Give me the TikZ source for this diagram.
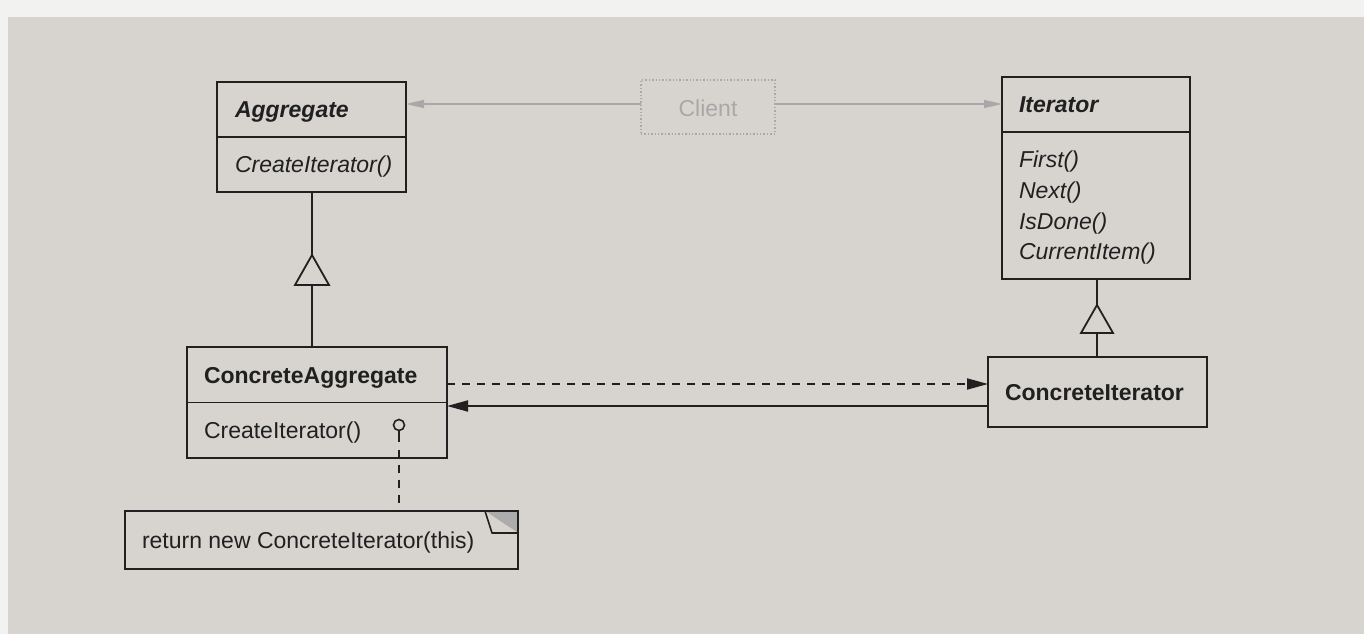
\documentclass[tikz,border=0pt]{standalone}
\usepackage{fontspec}
\setmainfont{Liberation Sans}
\usetikzlibrary{arrows.meta}
\definecolor{paper}{RGB}{215,212,208}
\definecolor{margin}{RGB}{242,242,241}
\definecolor{ink}{RGB}{32,32,32}
\definecolor{faint}{RGB}{168,168,168}
\definecolor{hatch}{RGB}{172,172,172}

\begin{document}
\begin{tikzpicture}[x=1pt,y=-1pt,
  every node/.style={inner sep=0pt, outer sep=0pt},
  box/.style={draw=ink, line width=2pt, rectangle, fill=paper},
  rule/.style={draw=ink, line width=1.9pt},
  label/.style={anchor=base west, text=ink, font=\fontsize{23}{27}\selectfont},
  abstractname/.style={label, font=\fontsize{23}{27}\selectfont\bfseries\itshape},
  classname/.style={label, font=\fontsize{23}{27}\selectfont\bfseries},
  abstractop/.style={label, font=\fontsize{23}{27}\selectfont\itshape},
  ghost/.style={draw=faint, line width=1.4pt, dotted},
  ghostarrow/.style={faint, line width=1.5pt, -{Triangle[length=18pt,width=8pt]}},
  inkarrow/.style={ink, line width=1.8pt, -{Triangle[length=21pt,width=11pt]}},
  dependency/.style={inkarrow, dash pattern=on 8pt off 7pt},
  generalize/.style={draw=ink, line width=1.8pt, fill=paper},
]
% page and scan margins
\useasboundingbox (0,0) rectangle (1364,634);
\fill[paper] (0,0) rectangle (1364,634);
\fill[margin] (0,0) rectangle (1364,17);
\fill[margin] (0,0) rectangle (8,634);

% rows used by the horizontal connectors
\coordinate (clientrow) at (0,104);
\coordinate (deprow) at (0,384);
\coordinate (refrow) at (0,406);

% Aggregate
\node[box, minimum width=189pt, minimum height=110pt] (agg) at (311.5,137) {};
\draw[rule] (agg.west) -- (agg.east);
\node[abstractname] (aggname) at (235,117) {Aggregate};
\node[abstractop] (aggop) at (235,172) {CreateIterator()};

% Client
\node[ghost, minimum width=134pt, minimum height=54pt] (client) at (708,107) {};
\node[label, text=faint, anchor=base] (clientname) at (708,116) {Client};

% Iterator
\node[box, minimum width=188pt, minimum height=202pt] (iter) at (1096,178) {};
\draw[rule] ([yshift=46pt]iter.west) -- ([yshift=46pt]iter.east);
\node[abstractname] (itername) at (1019,112) {Iterator};
\node[abstractop] (opfirst) at (1019,167) {First()};
\node[abstractop] (opnext) at (1019,198) {Next()};
\node[abstractop] (opdone) at (1019,229) {IsDone()};
\node[abstractop] (opitem) at (1019,259) {CurrentItem()};

% ConcreteAggregate
\node[box, minimum width=260pt, minimum height=111pt] (cagg) at (317,402.5) {};
\draw[rule] (cagg.west) -- (cagg.east);
\node[classname] (caggname) at (204,383) {ConcreteAggregate};
\node[label] (caggop) at (204,438) {CreateIterator()};
\node[circle, draw=ink, line width=1.6pt, minimum size=11pt] (pin) at (399,425) {};

% ConcreteIterator
\node[box, minimum width=219pt, minimum height=70pt] (cit) at (1097.5,392) {};
\node[classname] (citname) at (1005,400) {ConcreteIterator};

% implementation note
\node[box, minimum width=393pt, minimum height=58pt] (note) at (321.5,540) {};
\node[label] (notetext) at (142,548) {return new ConcreteIterator(this)};
\fill[hatch] ([xshift=-33pt]note.north east) -- (note.north east)
  -- ([yshift=-22pt]note.north east) -- cycle;
\draw[draw=ink, line width=1.6pt, fill=paper, line join=round]
  ([xshift=-33pt]note.north east) -- ([xshift=-26pt,yshift=-22pt]note.north east)
  -- ([yshift=-22pt]note.north east);
\draw[rule] (note.north west) rectangle (note.south east);

% client references
\draw[ghostarrow] (client.west |- clientrow) -- (agg.east |- clientrow);
\draw[ghostarrow] (client.east |- clientrow) -- (iter.west |- clientrow);

% generalizations
\coordinate (aggtip) at (312,255);
\coordinate (aggbase) at (312,285);
\draw[rule] (agg.south -| aggtip) -- (aggtip);
\draw[generalize] (aggtip) -- ++(-17,30) -- ++(34,0) -- cycle;
\draw[rule] (aggbase) -- (aggbase |- cagg.north);

\coordinate (itertip) at (1097,305);
\coordinate (iterbase) at (1097,333);
\draw[rule] (iter.south -| itertip) -- (itertip);
\draw[generalize] (itertip) -- ++(-16,28) -- ++(32,0) -- cycle;
\draw[rule] (iterbase) -- (iterbase |- cit.north);

% ConcreteAggregate <-> ConcreteIterator
\draw[dependency] (cagg.east |- deprow) -- (cit.west |- deprow);
\draw[inkarrow] (cit.west |- refrow) -- (cagg.east |- refrow);

% note attachment: short stem under the pin, then a dashed line to the note
\draw[ink, line width=1.6pt] (pin.south) -- ++(0,11);
\draw[ink, line width=1.6pt, dash pattern=on 8pt off 7pt]
  ([yshift=-19pt]pin.south) -- (pin.south |- note.north);
\end{tikzpicture}
\end{document}
